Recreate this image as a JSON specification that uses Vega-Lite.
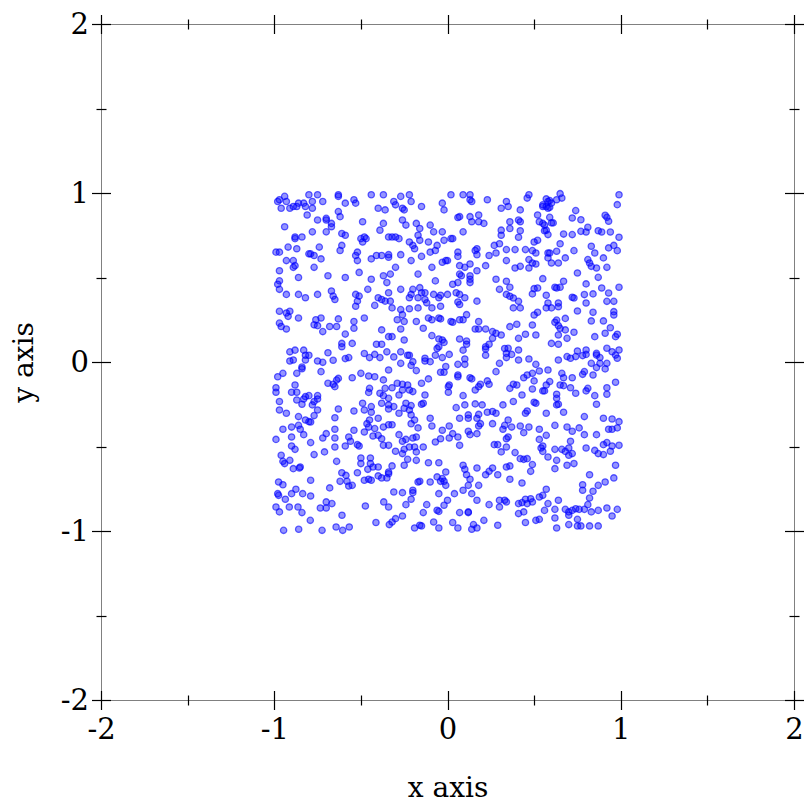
{
"$schema":"https://vega.github.io/schema/vega-lite/v6.json",
"width":693,"height":676,
"autosize":"none",
"padding":{"left":101,"top":24,"right":18,"bottom":112},
"background":"white",
"config":{"view":{"stroke":"#808080","strokeWidth":1},"axis":{"grid":false,"domain":false,"tickColor":"black","tickWidth":1.2,"labelFlush":false,"labelFont":"DejaVu Serif","titleFont":"DejaVu Serif","labelFontSize":29,"titleFontSize":28,"labelColor":"black","titleColor":"black","titleFontWeight":"normal"}},
"datasets":{
"pts":[
{"x":-0.98,"y":0.95},{"x":-0.97,"y":0.96},{"x":-0.94,"y":0.98},{"x":-0.93,"y":0.95},{"x":-0.96,"y":0.91},{"x":-0.91,"y":0.91},{"x":-0.89,"y":0.92},{"x":-0.87,"y":0.92},{"x":-0.86,"y":0.94},{"x":-0.83,"y":0.94},{"x":-0.82,"y":0.92},{"x":-0.80,"y":0.99},{"x":-0.78,"y":0.95},{"x":-0.75,"y":0.99},{"x":-0.72,"y":0.95},{"x":-0.78,"y":0.91},{"x":-0.81,"y":0.87},{"x":-0.63,"y":0.99},{"x":-0.63,"y":0.98},{"x":-0.59,"y":0.94},{"x":-0.54,"y":0.96},{"x":-0.53,"y":0.94},{"x":-0.44,"y":0.99},{"x":-0.37,"y":0.99},{"x":-0.40,"y":0.91},{"x":-0.36,"y":0.90},{"x":-0.63,"y":0.89},{"x":-0.62,"y":0.86},{"x":-0.70,"y":0.85},{"x":-0.70,"y":0.84},{"x":-0.75,"y":0.84},{"x":-0.94,"y":0.80},{"x":-0.67,"y":0.82},{"x":-0.67,"y":0.80},{"x":-0.70,"y":0.77},{"x":-0.78,"y":0.77},{"x":-0.88,"y":0.74},{"x":-0.88,"y":0.73},{"x":-0.84,"y":0.74},{"x":-0.61,"y":0.76},{"x":-0.59,"y":0.75},{"x":-0.49,"y":0.83},{"x":-0.37,"y":0.82},{"x":-0.39,"y":0.78},{"x":-0.34,"y":0.74},{"x":-0.50,"y":0.73},{"x":-0.47,"y":0.73},{"x":-0.48,"y":0.74},{"x":-0.49,"y":0.71},{"x":-0.92,"y":0.68},{"x":-0.87,"y":0.67},{"x":-0.97,"y":0.65},{"x":-0.99,"y":0.65},{"x":-0.74,"y":0.68},{"x":-0.61,"y":0.69},{"x":-0.62,"y":0.66},{"x":-0.52,"y":0.65},{"x":-0.53,"y":0.63},{"x":-0.41,"y":0.63},{"x":-0.44,"y":0.61},{"x":-0.38,"y":0.63},{"x":-0.34,"y":0.62},{"x":-0.79,"y":0.64},{"x":-0.77,"y":0.63},{"x":-0.73,"y":0.61},{"x":-0.80,"y":0.64},{"x":-0.52,"y":0.60},{"x":-0.93,"y":0.60},{"x":-0.89,"y":0.60},{"x":-0.88,"y":0.57},{"x":-0.89,"y":0.56},{"x":-0.97,"y":0.54},{"x":-0.77,"y":0.56},{"x":-0.69,"y":0.51},{"x":-0.86,"y":0.50},{"x":-0.59,"y":0.50},{"x":-0.51,"y":0.53},{"x":-0.44,"y":0.49},{"x":-0.37,"y":0.51},{"x":-0.35,"y":0.47},{"x":-0.97,"y":0.48},{"x":-0.98,"y":0.46},{"x":-0.97,"y":0.43},{"x":-0.93,"y":0.40},{"x":-0.86,"y":0.40},{"x":-0.82,"y":0.38},{"x":-0.75,"y":0.40},{"x":-0.67,"y":0.42},{"x":-0.66,"y":0.39},{"x":-0.65,"y":0.37},{"x":-0.53,"y":0.40},{"x":-0.51,"y":0.39},{"x":-0.52,"y":0.36},{"x":-0.46,"y":0.43},{"x":-0.40,"y":0.38},{"x":-0.38,"y":0.37},{"x":-0.36,"y":0.36},{"x":-0.34,"y":0.41},
{"x":-0.31,"y":0.95},{"x":-0.30,"y":0.93},{"x":-0.27,"y":0.98},{"x":-0.26,"y":0.91},{"x":-0.25,"y":0.90},{"x":-0.22,"y":0.99},{"x":-0.21,"y":0.95},{"x":-0.15,"y":0.92},{"x":-0.26,"y":0.84},{"x":-0.24,"y":0.81},{"x":-0.18,"y":0.82},{"x":-0.16,"y":0.79},{"x":-0.17,"y":0.75},{"x":-0.16,"y":0.72},{"x":-0.22,"y":0.71},{"x":-0.19,"y":0.67},{"x":-0.20,"y":0.69},{"x":-0.30,"y":0.74},{"x":-0.32,"y":0.74},{"x":-0.28,"y":0.73},{"x":-0.10,"y":0.81},{"x":-0.08,"y":0.77},{"x":-0.03,"y":0.77},{"x":-0.03,"y":0.94},{"x":-0.02,"y":0.90},{"x":0.02,"y":0.99},{"x":0.09,"y":0.99},{"x":0.13,"y":0.99},{"x":0.13,"y":0.96},{"x":0.14,"y":0.95},{"x":0.07,"y":0.86},{"x":0.06,"y":0.855},{"x":0.13,"y":0.86},{"x":0.14,"y":0.83},{"x":0.18,"y":0.87},{"x":0.18,"y":0.83},{"x":0.21,"y":0.82},{"x":0.23,"y":0.96},{"x":0.31,"y":0.91},{"x":0.09,"y":0.77},{"x":0.03,"y":0.73},{"x":0.02,"y":0.73},{"x":-0.02,"y":0.72},{"x":-0.11,"y":0.71},{"x":-0.06,"y":0.69},{"x":-0.07,"y":0.66},{"x":-0.10,"y":0.65},{"x":-0.15,"y":0.625},{"x":-0.27,"y":0.635},{"x":-0.34,"y":0.635},{"x":-0.21,"y":0.60},{"x":0.06,"y":0.65},{"x":0.06,"y":0.625},{"x":0.16,"y":0.66},{"x":0.17,"y":0.67},{"x":0.17,"y":0.635},{"x":0.24,"y":0.63},{"x":0.27,"y":0.69},{"x":0.30,"y":0.70},{"x":0.31,"y":0.78},{"x":0.31,"y":0.75},{"x":0.28,"y":0.645},{"x":0.34,"y":0.60},{"x":-0.03,"y":0.59},{"x":-0.01,"y":0.60},{"x":0.00,"y":0.60},{"x":0.07,"y":0.57},{"x":0.10,"y":0.56},{"x":0.13,"y":0.58},{"x":0.17,"y":0.54},{"x":0.22,"y":0.57},{"x":-0.09,"y":0.56},{"x":-0.17,"y":0.52},{"x":-0.30,"y":0.56},{"x":-0.33,"y":0.52},{"x":-0.07,"y":0.48},{"x":0.07,"y":0.52},{"x":0.08,"y":0.51},{"x":0.13,"y":0.51},{"x":0.13,"y":0.49},{"x":0.03,"y":0.46},{"x":0.06,"y":0.47},{"x":0.13,"y":0.47},{"x":0.28,"y":0.49},{"x":0.30,"y":0.43},{"x":0.34,"y":0.40},{"x":-0.27,"y":0.43},{"x":-0.20,"y":0.43},{"x":-0.21,"y":0.40},{"x":-0.16,"y":0.44},{"x":-0.15,"y":0.41},{"x":-0.13,"y":0.41},{"x":-0.22,"y":0.38},{"x":-0.17,"y":0.38},{"x":-0.08,"y":0.40},{"x":-0.04,"y":0.395},{"x":-0.05,"y":0.38},{"x":0.00,"y":0.40},{"x":0.05,"y":0.41},{"x":0.07,"y":0.40},{"x":0.10,"y":0.38},{"x":0.17,"y":0.36},{"x":0.06,"y":0.355},{"x":-0.13,"y":0.37},{"x":-0.12,"y":0.35},{"x":-0.33,"y":0.36},
{"x":0.34,"y":0.95},{"x":0.35,"y":0.92},{"x":0.47,"y":0.99},{"x":0.46,"y":0.97},{"x":0.42,"y":0.90},{"x":0.57,"y":0.965},{"x":0.58,"y":0.95},{"x":0.60,"y":0.94},{"x":0.59,"y":0.955},{"x":0.63,"y":0.96},{"x":0.65,"y":0.996},{"x":0.66,"y":0.97},{"x":0.55,"y":0.92},{"x":0.55,"y":0.93},{"x":0.57,"y":0.92},{"x":0.58,"y":0.91},{"x":0.59,"y":0.915},{"x":0.52,"y":0.87},{"x":0.59,"y":0.856},{"x":0.60,"y":0.823},{"x":0.53,"y":0.83},{"x":0.55,"y":0.82},{"x":0.56,"y":0.81},{"x":0.57,"y":0.78},{"x":0.56,"y":0.777},{"x":0.58,"y":0.754},{"x":0.61,"y":0.823},{"x":0.36,"y":0.83},{"x":0.42,"y":0.83},{"x":0.41,"y":0.84},{"x":0.36,"y":0.79},{"x":0.42,"y":0.777},{"x":0.41,"y":0.738},{"x":0.74,"y":0.896},{"x":0.72,"y":0.852},{"x":0.77,"y":0.842},{"x":0.91,"y":0.868},{"x":0.92,"y":0.856},{"x":0.93,"y":0.833},{"x":0.99,"y":0.99},{"x":0.98,"y":0.931},{"x":0.67,"y":0.757},{"x":0.72,"y":0.754},{"x":0.77,"y":0.773},{"x":0.80,"y":0.769},{"x":0.81,"y":0.797},{"x":0.87,"y":0.777},{"x":0.89,"y":0.769},{"x":0.94,"y":0.769},{"x":0.99,"y":0.738},{"x":0.34,"y":0.665},{"x":0.39,"y":0.665},{"x":0.45,"y":0.665},{"x":0.49,"y":0.659},{"x":0.51,"y":0.645},{"x":0.50,"y":0.71},{"x":0.52,"y":0.72},{"x":0.65,"y":0.70},{"x":0.58,"y":0.645},{"x":0.58,"y":0.616},{"x":0.59,"y":0.645},{"x":0.63,"y":0.655},{"x":0.68,"y":0.616},{"x":0.73,"y":0.659},{"x":0.83,"y":0.685},{"x":0.93,"y":0.675},{"x":0.96,"y":0.69},{"x":0.98,"y":0.659},{"x":0.42,"y":0.566},{"x":0.39,"y":0.556},{"x":0.47,"y":0.606},{"x":0.49,"y":0.586},{"x":0.47,"y":0.556},{"x":0.51,"y":0.58},{"x":0.60,"y":0.586},{"x":0.64,"y":0.586},{"x":0.81,"y":0.606},{"x":0.82,"y":0.586},{"x":0.83,"y":0.566},{"x":0.85,"y":0.645},{"x":0.86,"y":0.556},{"x":0.90,"y":0.616},{"x":0.92,"y":0.56},{"x":0.75,"y":0.527},{"x":0.55,"y":0.493},{"x":0.67,"y":0.478},{"x":0.80,"y":0.462},{"x":0.87,"y":0.501},{"x":0.89,"y":0.438},{"x":0.93,"y":0.408},{"x":0.99,"y":0.442},{"x":0.36,"y":0.442},{"x":0.34,"y":0.478},{"x":0.50,"y":0.434},{"x":0.52,"y":0.438},{"x":0.62,"y":0.442},{"x":0.63,"y":0.438},{"x":0.65,"y":0.442},{"x":0.49,"y":0.403},{"x":0.57,"y":0.395},{"x":0.36,"y":0.389},{"x":0.38,"y":0.379},{"x":0.41,"y":0.359},{"x":0.79,"y":0.399},{"x":0.84,"y":0.403},{"x":0.72,"y":0.383},{"x":0.73,"y":0.379},{"x":0.58,"y":0.349},{"x":0.64,"y":0.349},{"x":0.80,"y":0.349},{"x":0.92,"y":0.359},{"x":0.96,"y":0.359},
{"x":-0.97,"y":0.30},{"x":-0.97,"y":0.23},{"x":-0.96,"y":0.21},{"x":-0.93,"y":0.195},{"x":-0.93,"y":0.29},{"x":-0.91,"y":0.30},{"x":-0.92,"y":0.27},{"x":-0.86,"y":0.26},{"x":-0.76,"y":0.25},{"x":-0.73,"y":0.26},{"x":-0.77,"y":0.22},{"x":-0.75,"y":0.215},{"x":-0.72,"y":0.18},{"x":-0.68,"y":0.21},{"x":-0.64,"y":0.21},{"x":-0.63,"y":0.255},{"x":-0.54,"y":0.24},{"x":-0.54,"y":0.20},{"x":-0.53,"y":0.33},{"x":-0.42,"y":0.335},{"x":-0.48,"y":0.26},{"x":-0.38,"y":0.19},{"x":-0.34,"y":0.15},{"x":-0.59,"y":0.165},{"x":-0.61,"y":0.11},{"x":-0.61,"y":0.09},{"x":-0.55,"y":0.11},{"x":-0.69,"y":0.055},{"x":-0.66,"y":0.01},{"x":-0.59,"y":0.02},{"x":-0.57,"y":0.026},{"x":-0.48,"y":0.05},{"x":-0.45,"y":0.026},{"x":-0.42,"y":0.045},{"x":-0.39,"y":0.026},{"x":-0.41,"y":0.105},{"x":-0.38,"y":0.105},{"x":-0.35,"y":0.06},{"x":-0.88,"y":0.07},{"x":-0.91,"y":0.06},{"x":-0.91,"y":0.006},{"x":-0.89,"y":0.012},{"x":-0.83,"y":0.07},{"x":-0.82,"y":0.04},{"x":-0.82,"y":0.012},{"x":-0.80,"y":0.04},{"x":-0.84,"y":-0.03},{"x":-0.84,"y":-0.04},{"x":-0.75,"y":0.006},{"x":-0.72,"y":-0.002},{"x":-0.73,"y":-0.057},{"x":-0.87,"y":-0.067},{"x":-0.95,"y":-0.067},{"x":-0.98,"y":-0.087},{"x":-0.63,"y":-0.097},{"x":-0.64,"y":-0.107},{"x":-0.69,"y":-0.126},{"x":-0.66,"y":-0.132},{"x":-0.65,"y":-0.146},{"x":-0.55,"y":-0.093},{"x":-0.50,"y":-0.067},{"x":-0.455,"y":-0.083},{"x":-0.42,"y":-0.087},{"x":-0.37,"y":-0.106},{"x":-0.36,"y":-0.156},{"x":-0.45,"y":-0.156},{"x":-0.455,"y":-0.18},{"x":-0.39,"y":-0.185},{"x":-0.37,"y":-0.199},{"x":-0.99,"y":-0.152},{"x":-0.99,"y":-0.179},{"x":-0.88,"y":-0.136},{"x":-0.87,"y":-0.179},{"x":-0.90,"y":-0.179},{"x":-0.82,"y":-0.205},{"x":-0.80,"y":-0.199},{"x":-0.75,"y":-0.199},{"x":-0.75,"y":-0.219},{"x":-0.87,"y":-0.225},{"x":-0.84,"y":-0.25},{"x":-0.83,"y":-0.219},{"x":-0.78,"y":-0.254},{"x":-0.77,"y":-0.234},{"x":-0.97,"y":-0.234},{"x":-0.97,"y":-0.284},{"x":-0.93,"y":-0.303},{"x":-0.86,"y":-0.323},{"x":-0.82,"y":-0.343},{"x":-0.75,"y":-0.284},{"x":-0.77,"y":-0.317},{"x":-0.63,"y":-0.278},{"x":-0.65,"y":-0.33},{"x":-0.54,"y":-0.29},{"x":-0.49,"y":-0.244},{"x":-0.48,"y":-0.284},{"x":-0.44,"y":-0.297},{"x":-0.44,"y":-0.264},{"x":-0.38,"y":-0.244},{"x":-0.34,"y":-0.254},{"x":-0.40,"y":-0.333},{"x":-0.45,"y":-0.343},{"x":-0.80,"y":-0.353},
{"x":-0.32,"y":0.32},{"x":-0.27,"y":0.31},{"x":-0.26,"y":0.28},{"x":-0.22,"y":0.315},{"x":-0.17,"y":0.32},{"x":-0.09,"y":0.32},{"x":-0.04,"y":0.33},{"x":0.07,"y":0.34},{"x":-0.29,"y":0.25},{"x":-0.27,"y":0.195},{"x":-0.25,"y":0.24},{"x":-0.18,"y":0.24},{"x":-0.14,"y":0.20},{"x":-0.11,"y":0.26},{"x":-0.09,"y":0.25},{"x":-0.05,"y":0.26},{"x":-0.04,"y":0.255},{"x":0.02,"y":0.24},{"x":0.03,"y":0.235},{"x":0.07,"y":0.25},{"x":0.09,"y":0.25},{"x":0.11,"y":0.28},{"x":0.18,"y":0.24},{"x":0.16,"y":0.195},{"x":0.18,"y":0.195},{"x":0.22,"y":0.195},{"x":0.26,"y":0.18},{"x":0.28,"y":0.17},{"x":0.31,"y":0.16},{"x":0.26,"y":0.14},{"x":0.24,"y":0.105},{"x":0.22,"y":0.09},{"x":0.33,"y":0.08},{"x":0.34,"y":0.026},{"x":-0.32,"y":0.15},{"x":-0.25,"y":0.13},{"x":-0.09,"y":0.156},{"x":-0.05,"y":0.136},{"x":-0.03,"y":0.13},{"x":-0.02,"y":0.116},{"x":0.07,"y":0.136},{"x":0.11,"y":0.124},{"x":0.11,"y":0.105},{"x":0.09,"y":0.07},{"x":-0.05,"y":0.09},{"x":-0.06,"y":0.08},{"x":-0.27,"y":0.06},{"x":-0.23,"y":0.04},{"x":-0.22,"y":0.04},{"x":-0.31,"y":0.03},{"x":-0.27,"y":-0.008},{"x":-0.20,"y":0.002},{"x":-0.21,"y":-0.02},{"x":-0.13,"y":0.022},{"x":-0.13,"y":0.006},{"x":-0.10,"y":0.002},{"x":-0.07,"y":0.04},{"x":-0.03,"y":0.026},{"x":0.01,"y":0.045},{"x":0.10,"y":0.018},{"x":0.10,"y":-0.014},{"x":0.06,"y":-0.014},{"x":0.06,"y":-0.077},{"x":0.06,"y":-0.087},{"x":-0.04,"y":-0.061},{"x":-0.02,"y":-0.061},{"x":-0.01,"y":-0.027},{"x":-0.18,"y":-0.051},{"x":-0.34,"y":-0.047},{"x":0.22,"y":0.04},{"x":0.22,"y":0.077},{"x":0.30,"y":-0.008},{"x":0.28,"y":-0.057},{"x":0.13,"y":-0.093},{"x":0.14,"y":-0.10},{"x":-0.11,"y":-0.10},{"x":-0.15,"y":-0.126},{"x":-0.26,"y":-0.132},{"x":-0.26,"y":-0.166},{"x":-0.29,"y":-0.126},{"x":-0.32,"y":-0.152},{"x":-0.23,"y":-0.136},{"x":-0.22,"y":-0.166},{"x":-0.20,"y":-0.175},{"x":0.01,"y":-0.136},{"x":0.005,"y":-0.146},{"x":0.005,"y":-0.179},{"x":0.19,"y":-0.132},{"x":0.18,"y":-0.146},{"x":0.23,"y":-0.112},{"x":0.24,"y":-0.132},{"x":0.16,"y":-0.166},{"x":0.09,"y":-0.199},{"x":-0.13,"y":-0.195},{"x":-0.28,"y":-0.195},{"x":-0.34,"y":-0.215},{"x":-0.24,"y":-0.244},{"x":-0.21,"y":-0.258},{"x":-0.25,"y":-0.274},{"x":-0.22,"y":-0.284},{"x":-0.31,"y":-0.264},{"x":-0.34,"y":-0.278},{"x":-0.28,"y":-0.303},{"x":-0.21,"y":-0.313},{"x":-0.14,"y":-0.244},{"x":-0.15,"y":-0.25},{"x":0.05,"y":-0.27},{"x":0.10,"y":-0.254},{"x":0.16,"y":-0.248},{"x":0.20,"y":-0.254},{"x":0.32,"y":-0.254},{"x":0.23,"y":-0.297},{"x":0.26,"y":-0.293},{"x":0.28,"y":-0.303},{"x":0.18,"y":-0.31},{"x":0.12,"y":-0.313},{"x":0.12,"y":-0.333},{"x":0.17,"y":-0.333},{"x":0.07,"y":-0.333},{"x":-0.10,"y":-0.333},{"x":-0.19,"y":-0.343},
{"x":0.38,"y":0.32},{"x":0.42,"y":0.32},{"x":0.52,"y":0.294},{"x":0.50,"y":0.278},{"x":0.57,"y":0.32},{"x":0.60,"y":0.32},{"x":0.64,"y":0.327},{"x":0.75,"y":0.302},{"x":0.84,"y":0.294},{"x":0.96,"y":0.298},{"x":0.96,"y":0.278},{"x":0.63,"y":0.248},{"x":0.62,"y":0.235},{"x":0.64,"y":0.215},{"x":0.65,"y":0.199},{"x":0.68,"y":0.258},{"x":0.68,"y":0.19},{"x":0.64,"y":0.16},{"x":0.69,"y":0.14},{"x":0.73,"y":0.176},{"x":0.83,"y":0.243},{"x":0.90,"y":0.243},{"x":0.94,"y":0.203},{"x":0.98,"y":0.164},{"x":0.97,"y":0.15},{"x":0.85,"y":0.15},{"x":0.91,"y":0.17},{"x":0.49,"y":0.219},{"x":0.36,"y":0.209},{"x":0.40,"y":0.223},{"x":0.41,"y":0.14},{"x":0.45,"y":0.164},{"x":0.51,"y":0.16},{"x":0.60,"y":0.11},{"x":0.64,"y":0.105},{"x":0.35,"y":0.081},{"x":0.41,"y":0.071},{"x":0.34,"y":0.051},{"x":0.41,"y":0.012},{"x":0.47,"y":0.018},{"x":0.51,"y":-0.014},{"x":0.37,"y":0.045},{"x":0.64,"y":0.012},{"x":0.69,"y":0.032},{"x":0.71,"y":0.022},{"x":0.74,"y":0.032},{"x":0.75,"y":0.065},{"x":0.78,"y":0.038},{"x":0.80,"y":0.045},{"x":0.80,"y":0.071},{"x":0.86,"y":0.051},{"x":0.86,"y":0.041},{"x":0.88,"y":0.026},{"x":0.92,"y":0.081},{"x":0.95,"y":0.061},{"x":0.99,"y":0.071},{"x":0.97,"y":0.041},{"x":0.98,"y":0.022},{"x":0.88,"y":-0.008},{"x":0.91,"y":-0.041},{"x":0.92,"y":-0.008},{"x":0.86,"y":-0.033},{"x":0.83,"y":-0.008},{"x":0.79,"y":-0.057},{"x":0.84,"y":-0.077},{"x":0.78,"y":-0.073},{"x":0.66,"y":-0.067},{"x":0.67,"y":-0.093},{"x":0.71,"y":-0.152},{"x":0.65,"y":-0.136},{"x":0.67,"y":-0.14},{"x":0.72,"y":-0.093},{"x":0.58,"y":-0.047},{"x":0.53,"y":-0.053},{"x":0.49,"y":-0.067},{"x":0.46,"y":-0.077},{"x":0.44,"y":-0.093},{"x":0.50,"y":-0.112},{"x":0.59,"y":-0.116},{"x":0.57,"y":-0.136},{"x":0.38,"y":-0.132},{"x":0.40,"y":-0.136},{"x":0.36,"y":-0.156},{"x":0.49,"y":-0.16},{"x":0.56,"y":-0.171},{"x":0.55,"y":-0.171},{"x":0.63,"y":-0.191},{"x":0.63,"y":-0.215},{"x":0.74,"y":-0.185},{"x":0.80,"y":-0.171},{"x":0.81,"y":-0.156},{"x":0.85,"y":-0.199},{"x":0.92,"y":-0.152},{"x":0.92,"y":-0.191},{"x":0.97,"y":-0.12},{"x":0.43,"y":-0.195},{"x":0.38,"y":-0.234},{"x":0.51,"y":-0.244},{"x":0.50,"y":-0.238},{"x":0.64,"y":-0.25},{"x":0.63,"y":-0.254},{"x":0.67,"y":-0.297},{"x":0.57,"y":-0.303},{"x":0.86,"y":-0.25},{"x":0.46,"y":-0.29},{"x":0.45,"y":-0.303},{"x":0.35,"y":-0.343},{"x":0.79,"y":-0.323},{"x":0.90,"y":-0.333},{"x":0.95,"y":-0.337},{"x":0.99,"y":-0.353},
{"x":-0.95,"y":-0.398},{"x":-0.90,"y":-0.385},{"x":-0.86,"y":-0.375},{"x":-0.85,"y":-0.398},{"x":-0.83,"y":-0.43},{"x":-0.79,"y":-0.355},{"x":-0.65,"y":-0.398},{"x":-0.70,"y":-0.424},{"x":-0.72,"y":-0.45},{"x":-0.65,"y":-0.45},{"x":-0.54,"y":-0.404},{"x":-0.48,"y":-0.414},{"x":-0.455,"y":-0.385},{"x":-0.465,"y":-0.365},{"x":-0.42,"y":-0.394},{"x":-0.43,"y":-0.438},{"x":-0.40,"y":-0.434},{"x":-0.37,"y":-0.385},{"x":-0.34,"y":-0.371},{"x":-0.99,"y":-0.458},{"x":-0.90,"y":-0.444},{"x":-0.90,"y":-0.497},{"x":-0.88,"y":-0.517},{"x":-0.79,"y":-0.477},{"x":-0.65,"y":-0.503},{"x":-0.57,"y":-0.444},{"x":-0.56,"y":-0.469},{"x":-0.59,"y":-0.497},{"x":-0.52,"y":-0.489},{"x":-0.51,"y":-0.497},{"x":-0.38,"y":-0.454},{"x":-0.37,"y":-0.493},{"x":-0.34,"y":-0.493},{"x":-0.96,"y":-0.552},{"x":-0.95,"y":-0.588},{"x":-0.94,"y":-0.601},{"x":-0.91,"y":-0.582},{"x":-0.89,"y":-0.631},{"x":-0.85,"y":-0.621},{"x":-0.855,"y":-0.627},{"x":-0.77,"y":-0.548},{"x":-0.71,"y":-0.532},{"x":-0.64,"y":-0.588},{"x":-0.50,"y":-0.568},{"x":-0.445,"y":-0.568},{"x":-0.50,"y":-0.601},{"x":-0.445,"y":-0.601},{"x":-0.43,"y":-0.621},{"x":-0.40,"y":-0.621},{"x":-0.34,"y":-0.651},{"x":-0.35,"y":-0.686},{"x":-0.38,"y":-0.686},{"x":-0.40,"y":-0.674},{"x":-0.44,"y":-0.70},{"x":-0.455,"y":-0.694},{"x":-0.48,"y":-0.70},{"x":-0.46,"y":-0.635},{"x":-0.52,"y":-0.655},{"x":-0.61,"y":-0.655},{"x":-0.586,"y":-0.671},{"x":-0.58,"y":-0.706},{"x":-0.57,"y":-0.734},{"x":-0.55,"y":-0.730},{"x":-0.62,"y":-0.706},{"x":-0.79,"y":-0.70},{"x":-0.68,"y":-0.745},{"x":-0.975,"y":-0.710},{"x":-0.95,"y":-0.726},{"x":-0.98,"y":-0.779},{"x":-0.975,"y":-0.789},{"x":-0.936,"y":-0.812},{"x":-0.875,"y":-0.753},{"x":-0.90,"y":-0.779},{"x":-0.836,"y":-0.779},{"x":-0.79,"y":-0.793},{"x":-0.99,"y":-0.858},{"x":-0.97,"y":-0.887},{"x":-0.913,"y":-0.858},{"x":-0.863,"y":-0.858},{"x":-0.84,"y":-0.891},{"x":-0.734,"y":-0.864},{"x":-0.70,"y":-0.828},{"x":-0.70,"y":-0.864},{"x":-0.667,"y":-0.838},{"x":-0.474,"y":-0.852},{"x":-0.368,"y":-0.828},{"x":-0.34,"y":-0.858},{"x":-0.609,"y":-0.907},{"x":-0.792,"y":-0.937},{"x":-0.946,"y":-0.996},{"x":-0.859,"y":-0.99},{"x":-0.724,"y":-0.996},{"x":-0.643,"y":-0.976},{"x":-0.605,"y":-0.996},{"x":-0.567,"y":-0.976},{"x":-0.413,"y":-0.95},{"x":-0.336,"y":-0.962},
{"x":-0.32,"y":-0.371},{"x":-0.21,"y":-0.365},{"x":-0.17,"y":-0.39},{"x":-0.09,"y":-0.379},{"x":-0.03,"y":-0.404},{"x":0.01,"y":-0.379},{"x":0.03,"y":-0.424},{"x":0.06,"y":-0.444},{"x":0.12,"y":-0.41},{"x":0.18,"y":-0.379},{"x":0.19,"y":-0.365},{"x":0.26,"y":-0.365},{"x":0.32,"y":-0.398},{"x":0.33,"y":-0.375},{"x":-0.28,"y":-0.43},{"x":-0.26,"y":-0.469},{"x":-0.24,"y":-0.458},{"x":-0.20,"y":-0.45},{"x":-0.18,"y":-0.444},{"x":-0.22,"y":-0.503},{"x":-0.25,"y":-0.517},{"x":-0.30,"y":-0.528},{"x":-0.26,"y":-0.542},{"x":-0.18,"y":-0.532},{"x":-0.19,"y":-0.503},{"x":-0.14,"y":-0.503},{"x":-0.07,"y":-0.473},{"x":-0.04,"y":-0.454},{"x":0.01,"y":-0.45},{"x":0.07,"y":-0.493},{"x":0.13,"y":-0.43},{"x":0.17,"y":-0.424},{"x":0.27,"y":-0.489},{"x":0.29,"y":-0.489},{"x":0.31,"y":-0.532},{"x":0.34,"y":-0.454},{"x":-0.25,"y":-0.611},{"x":-0.23,"y":-0.576},{"x":-0.18,"y":-0.582},{"x":-0.11,"y":-0.596},{"x":-0.05,"y":-0.596},{"x":-0.32,"y":-0.615},{"x":-0.34,"y":-0.661},{"x":0.09,"y":-0.611},{"x":0.10,"y":-0.635},{"x":0.11,"y":-0.667},{"x":0.17,"y":-0.627},{"x":0.22,"y":-0.667},{"x":0.24,"y":-0.647},{"x":0.26,"y":-0.627},{"x":0.29,"y":-0.667},{"x":0.34,"y":-0.621},{"x":-0.06,"y":-0.68},{"x":-0.03,"y":-0.69},{"x":-0.02,"y":-0.706},{"x":-0.01,"y":-0.651},{"x":-0.04,"y":-0.706},{"x":-0.10,"y":-0.71},{"x":-0.17,"y":-0.71},{"x":-0.16,"y":-0.706},{"x":-0.01,"y":-0.73},{"x":0.12,"y":-0.73},{"x":0.13,"y":-0.694},{"x":0.18,"y":-0.73},{"x":0.14,"y":-0.779},{"x":0.09,"y":-0.759},{"x":0.04,"y":-0.779},{"x":-0.05,"y":-0.779},{"x":-0.20,"y":-0.759},{"x":-0.20,"y":-0.773},{"x":-0.26,"y":-0.773},{"x":-0.31,"y":-0.769},{"x":-0.21,"y":-0.812},{"x":-0.24,"y":-0.844},{"x":-0.12,"y":-0.844},{"x":0.00,"y":-0.818},{"x":-0.02,"y":-0.848},{"x":0.17,"y":-0.818},{"x":0.24,"y":-0.844},{"x":0.30,"y":-0.858},{"x":0.30,"y":-0.818},{"x":0.33,"y":-0.818},{"x":-0.14,"y":-0.891},{"x":-0.06,"y":-0.877},{"x":-0.05,"y":-0.884},{"x":0.07,"y":-0.891},{"x":0.12,"y":-0.891},{"x":0.12,"y":-0.887},{"x":-0.26,"y":-0.911},{"x":-0.32,"y":-0.947},{"x":-0.30,"y":-0.927},{"x":-0.16,"y":-0.966},{"x":-0.15,"y":-0.97},{"x":-0.19,"y":-0.982},{"x":-0.08,"y":-0.947},{"x":-0.05,"y":-0.982},{"x":0.03,"y":-0.95},{"x":0.06,"y":-0.982},{"x":0.15,"y":-0.962},{"x":0.14,"y":-0.99},{"x":0.17,"y":-0.982},{"x":0.21,"y":-0.937},{"x":0.29,"y":-0.966},
{"x":0.37,"y":-0.385},{"x":0.42,"y":-0.379},{"x":0.44,"y":-0.418},{"x":0.47,"y":-0.385},{"x":0.53,"y":-0.398},{"x":0.57,"y":-0.434},{"x":0.53,"y":-0.458},{"x":0.62,"y":-0.375},{"x":0.69,"y":-0.385},{"x":0.72,"y":-0.41},{"x":0.76,"y":-0.39},{"x":0.79,"y":-0.43},{"x":0.86,"y":-0.43},{"x":0.93,"y":-0.398},{"x":0.95,"y":-0.398},{"x":0.98,"y":-0.39},{"x":0.35,"y":-0.444},{"x":0.34,"y":-0.503},{"x":0.39,"y":-0.536},{"x":0.42,"y":-0.572},{"x":0.44,"y":-0.576},{"x":0.46,"y":-0.572},{"x":0.49,"y":-0.607},{"x":0.48,"y":-0.647},{"x":0.36,"y":-0.615},{"x":0.36,"y":-0.694},{"x":0.43,"y":-0.716},{"x":0.54,"y":-0.509},{"x":0.55,"y":-0.529},{"x":0.55,"y":-0.497},{"x":0.58,"y":-0.562},{"x":0.63,"y":-0.582},{"x":0.62,"y":-0.631},{"x":0.62,"y":-0.517},{"x":0.66,"y":-0.517},{"x":0.68,"y":-0.529},{"x":0.70,"y":-0.552},{"x":0.72,"y":-0.542},{"x":0.70,"y":-0.509},{"x":0.73,"y":-0.601},{"x":0.69,"y":-0.611},{"x":0.71,"y":-0.469},{"x":0.80,"y":-0.509},{"x":0.85,"y":-0.523},{"x":0.87,"y":-0.542},{"x":0.90,"y":-0.489},{"x":0.90,"y":-0.548},{"x":0.92,"y":-0.477},{"x":0.94,"y":-0.528},{"x":0.95,"y":-0.497},{"x":0.99,"y":-0.493},{"x":0.97,"y":-0.611},{"x":0.96,"y":-0.686},{"x":0.91,"y":-0.71},{"x":0.87,"y":-0.730},{"x":0.84,"y":-0.765},{"x":0.82,"y":-0.667},{"x":0.78,"y":-0.726},{"x":0.78,"y":-0.759},{"x":0.57,"y":-0.753},{"x":0.55,"y":-0.789},{"x":0.53,"y":-0.799},{"x":0.48,"y":-0.809},{"x":0.45,"y":-0.812},{"x":0.43,"y":-0.832},{"x":0.41,"y":-0.838},{"x":0.46,"y":-0.838},{"x":0.49,"y":-0.828},{"x":0.64,"y":-0.818},{"x":0.58,"y":-0.838},{"x":0.34,"y":-0.828},{"x":0.41,"y":-0.897},{"x":0.44,"y":-0.887},{"x":0.45,"y":-0.95},{"x":0.53,"y":-0.931},{"x":0.51,"y":-0.937},{"x":0.56,"y":-0.878},{"x":0.62,"y":-0.872},{"x":0.62,"y":-0.923},{"x":0.68,"y":-0.872},{"x":0.70,"y":-0.887},{"x":0.72,"y":-0.878},{"x":0.74,"y":-0.868},{"x":0.76,"y":-0.872},{"x":0.79,"y":-0.872},{"x":0.81,"y":-0.844},{"x":0.82,"y":-0.805},{"x":0.83,"y":-0.887},{"x":0.87,"y":-0.878},{"x":0.92,"y":-0.864},{"x":0.98,"y":-0.872},{"x":0.95,"y":-0.911},{"x":0.70,"y":-0.907},{"x":0.75,"y":-0.931},{"x":0.75,"y":-0.97},{"x":0.70,"y":-0.962},{"x":0.77,"y":-0.97},{"x":0.82,"y":-0.97},{"x":0.87,"y":-0.97},{"x":0.63,"y":-0.982}
],
"frame":[{"x":-2,"y":-2},{"x":2,"y":2}]
},
"resolve":{"axis":{"x":"independent","y":"independent"}},
"layer":[
{"data":{"name":"pts"},
 "mark":{"type":"point","shape":"circle","filled":true,"fill":"#0000ff","fillOpacity":0.42,"stroke":"#0000ff","strokeOpacity":0.6,"strokeWidth":1.3,"size":40},
 "encoding":{
  "x":{"field":"x","type":"quantitative","scale":{"domain":[-2,2],"nice":false,"zero":false},
   "axis":{"orient":"bottom","values":[-2,-1,0,1,2],"tickSize":19,"offset":-9.5,"labelPadding":6,"labelExpr":"toString(datum.value)","title":"x axis","titlePadding":30}},
  "y":{"field":"y","type":"quantitative","scale":{"domain":[-2,2],"nice":false,"zero":false},
   "axis":{"orient":"left","values":[-2,-1,0,1,2],"tickSize":19,"offset":-9.5,"labelPadding":3,"labelExpr":"toString(datum.value)","title":"y axis","titlePadding":22}}}},
{"data":{"name":"frame"},
 "mark":{"type":"point","opacity":0},
 "encoding":{
  "x":{"field":"x","type":"quantitative","axis":{"orient":"bottom","values":[-1.5,-0.5,0.5,1.5],"tickSize":10,"offset":-5,"labels":false,"title":null}},
  "y":{"field":"y","type":"quantitative","axis":{"orient":"left","values":[-1.5,-0.5,0.5,1.5],"tickSize":10,"offset":-5,"labels":false,"title":null}}}},
{"data":{"name":"frame"},
 "mark":{"type":"point","opacity":0},
 "encoding":{
  "x":{"field":"x","type":"quantitative","axis":{"orient":"top","values":[-2,-1,0,1,2],"tickSize":19,"offset":-9.5,"labels":false,"title":null}},
  "y":{"field":"y","type":"quantitative","axis":{"orient":"right","values":[-2,-1,0,1,2],"tickSize":19,"offset":-9.5,"labels":false,"title":null}}}},
{"data":{"name":"frame"},
 "mark":{"type":"point","opacity":0},
 "encoding":{
  "x":{"field":"x","type":"quantitative","axis":{"orient":"top","values":[-1.5,-0.5,0.5,1.5],"tickSize":10,"offset":-5,"labels":false,"title":null}},
  "y":{"field":"y","type":"quantitative","axis":{"orient":"right","values":[-1.5,-0.5,0.5,1.5],"tickSize":10,"offset":-5,"labels":false,"title":null}}}}
]
}
